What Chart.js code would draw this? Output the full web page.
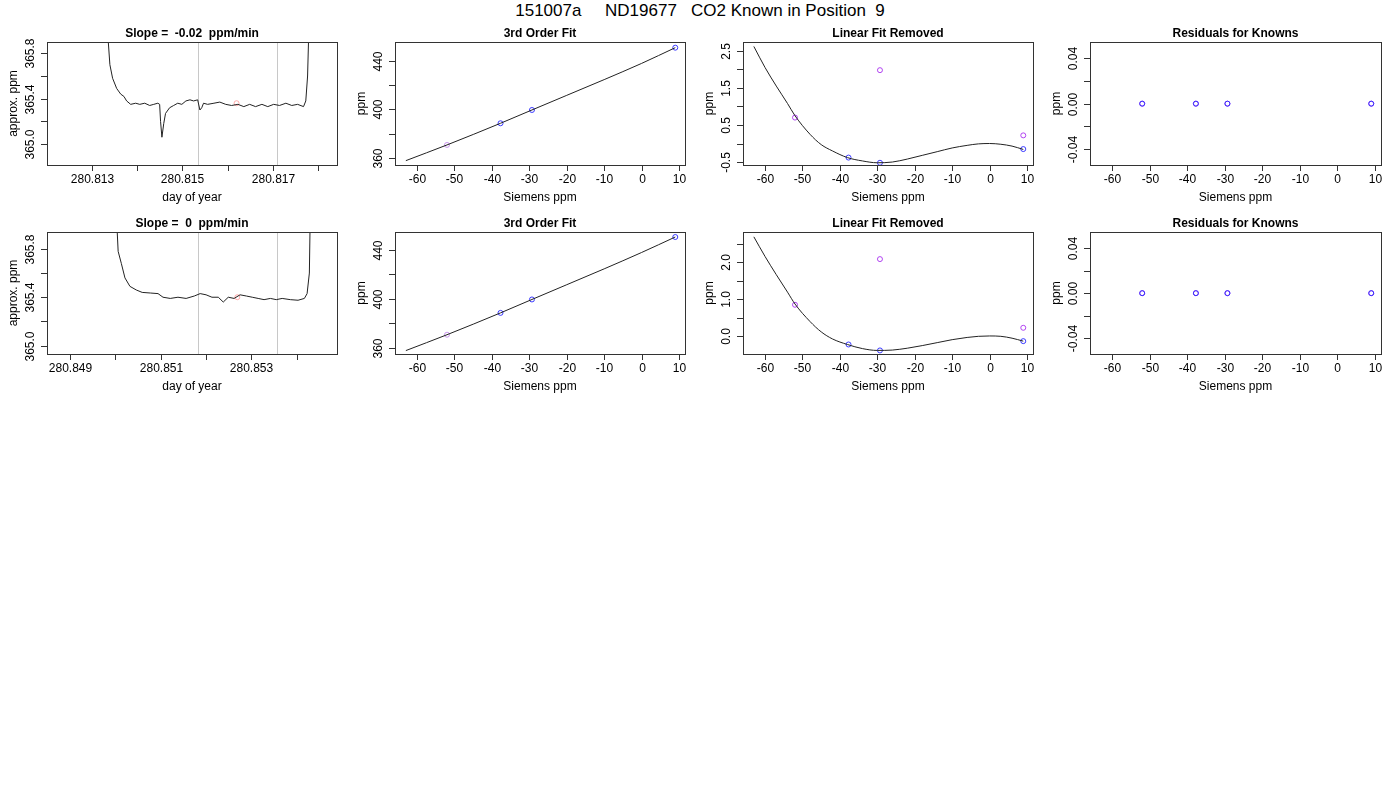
<!DOCTYPE html>
<html><head><meta charset="utf-8">
<script src="https://cdn.jsdelivr.net/npm/chart.js@4/dist/chart.umd.min.js"></script>
<style>
body{margin:0;width:1400px;height:800px;background:#fff;position:relative;font-family:"Liberation Sans",Arial,sans-serif;overflow:hidden}
canvas{position:absolute}
#main{position:absolute;top:0;left:0;width:1400px;text-align:center;font-size:17px;white-space:pre;line-height:22px}
</style></head><body>
<div id="main">151007a     ND19677   CO2 Known in Position  9</div>
<script>
// ---------- data ----------
const mainTitle = "151007a     ND19677   CO2 Known in Position  9";
// Row 1 time series
const r1Day = [280.81333,280.81340,280.81346,280.81355,280.81364,280.81371,280.81377,280.81386,280.81397,280.81406,280.81417,280.81428,280.81437,280.81446,280.81450,280.81452,280.81455,280.81459,280.81463,280.81472,280.81481,280.81490,280.81499,280.81508,280.81517,280.81525,280.81534,280.81539,280.81543,280.81547,280.81556,280.81570,280.81583,280.81596,280.81609,280.81623,280.81636,280.81649,280.81662,280.81676,280.81689,280.81702,280.81715,280.81729,280.81742,280.81755,280.81768,280.81773,280.81777,280.81779,280.81782];
const r1Ppm = [366.1,365.70,365.58,365.49,365.44,365.42,365.38,365.35,365.36,365.35,365.36,365.34,365.35,365.36,365.35,365.20,365.06,365.18,365.27,365.32,365.34,365.36,365.35,365.38,365.39,365.38,365.39,365.30,365.32,365.36,365.35,365.36,365.37,365.35,365.34,365.35,365.33,365.35,365.33,365.35,365.33,365.35,365.34,365.36,365.34,365.35,365.33,365.38,365.6,365.9,366.1];
const r1Marks = [280.81534, 280.81709];
const r1Dot = [280.81620, 365.36];
const r1XTicks = [280.813,280.814,280.815,280.816,280.817,280.818];
const r1XLabels = ["280.813","","280.815","","280.817",""];
// Row 2 time series
const r2Day = [280.85002,280.85006,280.85013,280.85021,280.85032,280.85046,280.85059,280.85077,280.85094,280.85105,280.85121,280.85138,280.85156,280.85174,280.85187,280.85200,280.85213,280.85227,280.85238,280.85249,280.85262,280.85275,280.85289,280.85302,280.85315,280.85328,280.85342,280.85355,280.85368,280.85386,280.85403,280.85417,280.85423,280.85428,280.85430];
const r2Ppm = [366.1,365.78,365.68,365.56,365.49,365.46,365.44,365.435,365.43,365.40,365.39,365.40,365.39,365.41,365.43,365.42,365.40,365.40,365.36,365.40,365.39,365.42,365.41,365.40,365.39,365.38,365.39,365.38,365.39,365.38,365.375,365.39,365.43,365.6,366.1];
const r2Marks = [280.85183, 280.85357];
const r2Dot = [280.85269, 365.40];
const r2XTicks = [280.849,280.850,280.851,280.852,280.853,280.854];
const r2XLabels = ["280.849","","280.851","","280.853",""];
const tsYTicks = [365.0,365.2,365.4,365.6,365.8];
const tsYLabels = ["365.0","","365.4","","365.8"];
// Siemens x
const sieTicks = [-60,-50,-40,-30,-20,-10,0,10];
const knownX = [-37.7,-29.3,9.0];
const otherX = [-52.0];
// 3rd order fit
const fitCurveX = [-63,-52,-37.7,-29.3,-20,-10,0,9];
const fit1Y = [357.6,370.6,388.5,399.5,411.6,424.6,438.0,451.0];
const fit1Known = [388.5,399.5,451.0];
const fit1Other = [370.6];
const fit2Y = [357.6,370.6,388.5,399.5,411.6,424.6,438.0,450.7];
const fit2Known = [388.5,399.5,450.7];
const fit2Other = [370.6];
const fitYTicks = [360,380,400,420,440];
const fitYLabels = ["360","","400","","440"];
// Linear fit removed
const linCurveX = [-63,-60,-57,-54,-52,-48,-45,-42,-38,-34,-30,-26,-22,-18,-14,-10,-6,-3,0,3,6,9];
const lin1Y = [2.62,2.05,1.55,1.08,0.75,0.25,-0.03,-0.20,-0.38,-0.47,-0.52,-0.50,-0.42,-0.32,-0.22,-0.12,-0.05,-0.01,0.0,-0.02,-0.07,-0.16];
const lin1Known = [-0.38,-0.52,-0.15];
const lin1OtherX = [-52,-29.3,9];
const lin1Other = [0.70,1.98,0.22];
const lin2Y = [2.68,2.15,1.66,1.19,0.87,0.40,0.12,-0.07,-0.22,-0.33,-0.38,-0.37,-0.32,-0.25,-0.17,-0.09,-0.03,0.0,0.01,0.0,-0.05,-0.13];
const lin2Known = [-0.22,-0.38,-0.13];
const lin2Other = [0.85,2.08,0.23];
const lin1YTicks = [-0.5,0,0.5,1,1.5,2,2.5];
const lin1YLabels = ["-0.5","","0.5","","1.5","","2.5"];
const lin2YTicks = [0,0.5,1,1.5,2,2.5];
const lin2YLabels = ["0.0","","1.0","","2.0",""];
// Residuals
const resX = [-52,-37.7,-29.3,9];
const resY = [0,0,0,0];
const resYTicks = [-0.04,-0.02,0,0.02,0.04];
const resYLabels = ["-0.04","","0.00","","0.04"];

// ---------- helpers ----------
const FONT = '"Liberation Sans", Arial, sans-serif';
const BLUE = 'rgba(40,40,255,0.9)', PURPLE = 'rgba(170,50,240,0.9)', LAV = 'rgba(180,110,230,0.7)';
const PADL = 55, PADT = 30, PADB = 45, PADR = 10;
const pts = (xs, ys) => xs.map((x,i)=>({x, y: ys[i]}));

const rStyle = {
  id:'rStyle',
  afterDraw(chart, args, o){
    const {ctx, chartArea:a} = chart;
    const ys = chart.scales.y, xs = chart.scales.x;
    ctx.save();
    ctx.strokeStyle = '#333'; ctx.lineWidth = 1;
    ctx.strokeRect(a.left+0.5, a.top+0.5, a.right-a.left, a.bottom-a.top);
    ctx.fillStyle = '#000'; ctx.font = '12px ' + FONT;
    o.yTicks.forEach((v,i)=>{
      const p = Math.round(ys.getPixelForValue(v))+0.5;
      ctx.beginPath(); ctx.moveTo(a.left, p); ctx.lineTo(a.left-6, p); ctx.stroke();
      if (o.yLabels[i]) {
        ctx.save(); ctx.translate(a.left-16, p); ctx.rotate(-Math.PI/2);
        ctx.textAlign='center'; ctx.textBaseline='middle'; ctx.fillText(o.yLabels[i],0,0); ctx.restore();
      }
    });
    o.xTicks.forEach((v,i)=>{
      const p = Math.round(xs.getPixelForValue(v))+0.5;
      ctx.beginPath(); ctx.moveTo(p, a.bottom); ctx.lineTo(p, a.bottom+6); ctx.stroke();
      if (o.xLabels[i]) { ctx.textAlign='center'; ctx.textBaseline='middle'; ctx.fillText(o.xLabels[i], p, a.bottom+15); }
    });
    ctx.textAlign='center'; ctx.textBaseline='middle';
    ctx.fillText(o.xTitle, (a.left+a.right)/2, a.bottom+33);
    ctx.save(); ctx.translate(a.left-33, (a.top+a.bottom)/2); ctx.rotate(-Math.PI/2);
    ctx.fillText(o.yTitle,0,0); ctx.restore();
    ctx.font = 'bold 12px ' + FONT;
    ctx.fillText(o.title, (a.left+a.right)/2, a.top-8);
    ctx.restore();
  }
};
const vlines = {
  id:'vlines',
  beforeDatasetsDraw(chart, args, o){
    if (!o.xs) return;
    const {ctx, chartArea:a} = chart; const xs = chart.scales.x;
    ctx.save(); ctx.strokeStyle='#c8c8c8'; ctx.lineWidth=1;
    o.xs.forEach(v=>{ const p=Math.round(xs.getPixelForValue(v))+0.5; ctx.beginPath(); ctx.moveTo(p,a.top); ctx.lineTo(p,a.bottom); ctx.stroke(); });
    ctx.restore();
  }
};

function panel(plotLeft, plotTop, plotW, plotH, cfg){
  const c = document.createElement('canvas');
  const W = PADL+plotW+PADR, H = PADT+plotH+PADB;
  c.style.left = (plotLeft-PADL)+'px'; c.style.top = (plotTop-PADT)+'px';
  c.style.width = W+'px'; c.style.height = H+'px';
  c.width = W; c.height = H;
  document.body.appendChild(c);
  const hiddenAxis = (min,max,isY) => ({type:'linear', min, max, display:true,
    grid:{display:false, drawTicks:false}, border:{display:false},
    ticks:{display:false},
    afterFit(s){ if(isY) s.width = PADL; else s.height = PADB; }});
  new Chart(c, {
    type:'scatter',
    data:{datasets: cfg.datasets},
    options:{
      responsive:false, animation:false, devicePixelRatio:1,
      layout:{padding:{top:PADT, right:PADR, left:0, bottom:0}},
      plugins:{legend:{display:false}, tooltip:{enabled:false},
        rStyle:{title:cfg.title, xTitle:cfg.xTitle, yTitle:cfg.yTitle, yTicks:cfg.yTicks, yLabels:cfg.yLabels, xTicks:cfg.xTicks, xLabels:cfg.xLabels},
        vlines:{xs:cfg.vlines}},
      scales:{x:hiddenAxis(cfg.xMin,cfg.xMax,false), y:hiddenAxis(cfg.yMin,cfg.yMax,true)}
    },
    plugins:[rStyle, vlines]
  });
}
const line = (data, smooth) => ({data, showLine:true, borderColor:'#222', borderWidth:1, pointRadius:0,
  tension: smooth ? 0.4 : 0, cubicInterpolationMode: smooth ? 'monotone' : 'default'});
const circ = (data, col) => ({data, showLine:false, pointRadius:2.5, pointBorderColor:col, pointBackgroundColor:'rgba(0,0,0,0)', pointBorderWidth:1});

const PX = [47,395,743,1090], PW = [290,290,290,291], PY = [42,232], PH = 123;
const sieCommon = {xMin:-65.9, xMax:11.6, xTicks:sieTicks, xLabels:sieTicks.map(String), xTitle:'Siemens ppm', yTitle:'ppm'};

// Row 1
panel(PX[0],PY[0],PW[0],PH,{title:'Slope =  -0.02  ppm/min', xTitle:'day of year', yTitle:'approx. ppm',
  xMin:280.81201, xMax:280.81842, yMin:364.815, yMax:365.90,
  xTicks:r1XTicks, xLabels:r1XLabels, yTicks:tsYTicks, yLabels:tsYLabels, vlines:r1Marks,
  datasets:[line(pts(r1Day,r1Ppm)), circ([{x:r1Dot[0],y:r1Dot[1]}],'rgba(255,150,150,0.8)')]});
panel(PX[1],PY[0],PW[1],PH,Object.assign({title:'3rd Order Fit', yMin:354.0, yMax:455.7, yTicks:fitYTicks, yLabels:fitYLabels,
  datasets:[line(pts(fitCurveX,fit1Y),true), circ(pts(knownX,fit1Known),BLUE), circ(pts(otherX,fit1Other),LAV)]}, sieCommon));
panel(PX[2],PY[0],PW[2],PH,Object.assign({title:'Linear Fit Removed', yMin:-0.58, yMax:2.74, yTicks:lin1YTicks, yLabels:lin1YLabels,
  datasets:[line(pts(linCurveX,lin1Y),true), circ(pts(knownX,lin1Known),BLUE), circ(pts(lin1OtherX,lin1Other),PURPLE)]}, sieCommon));
panel(PX[3],PY[0],PW[3],PH,Object.assign({title:'Residuals for Knowns', yMin:-0.0541, yMax:0.0544, yTicks:resYTicks, yLabels:resYLabels,
  datasets:[circ(pts(resX,resY),BLUE), circ(pts(resX,resY),PURPLE)]}, sieCommon));
// Row 2
panel(PX[0],PY[1],PW[0],122,{title:'Slope =  0  ppm/min', xTitle:'day of year', yTitle:'approx. ppm',
  xMin:280.84849, xMax:280.85489, yMin:364.93, yMax:365.94,
  xTicks:r2XTicks, xLabels:r2XLabels, yTicks:tsYTicks, yLabels:tsYLabels, vlines:r2Marks,
  datasets:[line(pts(r2Day,r2Ppm)), circ([{x:r2Dot[0],y:r2Dot[1]}],'rgba(255,150,150,0.8)')]});
panel(PX[1],PY[1],PW[1],122,Object.assign({title:'3rd Order Fit', yMin:354.8, yMax:454.8, yTicks:fitYTicks, yLabels:fitYLabels,
  datasets:[line(pts(fitCurveX,fit2Y),true), circ(pts(knownX,fit2Known),BLUE), circ(pts(otherX,fit2Other),LAV)]}, sieCommon));
panel(PX[2],PY[1],PW[2],122,Object.assign({title:'Linear Fit Removed', yMin:-0.476, yMax:2.81, yTicks:lin2YTicks, yLabels:lin2YLabels,
  datasets:[line(pts(linCurveX,lin2Y),true), circ(pts(knownX,lin2Known),BLUE), circ(pts(lin1OtherX,lin2Other),PURPLE)]}, sieCommon));
panel(PX[3],PY[1],PW[3],122,Object.assign({title:'Residuals for Knowns', yMin:-0.0541, yMax:0.0544, yTicks:resYTicks, yLabels:resYLabels,
  datasets:[circ(pts(resX,resY),BLUE), circ(pts(resX,resY),PURPLE)]}, sieCommon));
</script>
</body></html>
